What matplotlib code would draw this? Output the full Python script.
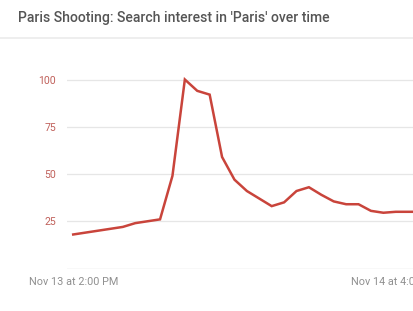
import matplotlib
matplotlib.use("Agg")
import matplotlib.pyplot as plt
from matplotlib.lines import Line2D

plt.rcParams['font.family'] = ['Roboto', 'DejaVu Sans']

# hourly search interest, starting Nov 13 at 2:00 PM
hours = list(range(29))
interest = [18, 19, 20, 21, 22, 24, 25, 26, 49, 100, 94, 92, 59, 47, 41, 37,
            33, 35, 41, 43, 39, 35.5, 34, 34, 30.5, 29.5, 30, 30, 30]
y_ticks = [25, 50, 75, 100]
x_ticks = [0, 26]
x_labels = ['Nov 13 at 2:00 PM', 'Nov 14 at 4:00 PM']

W, H = 414, 311
fig = plt.figure(figsize=(W / 100, H / 100), dpi=100)
fig.patch.set_facecolor('white')

fig.text(18 / W, 1 - 18 / H, "Paris Shooting: Search interest in 'Paris' over time",
         fontsize=10.1, color='#555555', va='center', ha='left', weight='medium')
fig.add_artist(Line2D([0, 1], [1 - 37.5 / H] * 2, color='#ebebeb', lw=1.2,
                      transform=fig.transFigure))

# axes run past the right edge, like the cropped screenshot
left, right = 67, 428
bottom, top = 268.5, 70
ax = fig.add_axes([left / W, 1 - bottom / H, (right - left) / W, (bottom - top) / H])
ax.set_xlim(-0.5, 28.6)
ax.set_ylim(0, 100 * (bottom - top) / (bottom - 79.5))

for v in y_ticks:
    ax.axhline(v, color='#e6e6e6', lw=0.9, zorder=1)
ax.axhline(0, color='#dcdcdc', lw=1.0, zorder=1)

ax.plot(hours, interest, color='#c9443b', lw=1.8, solid_joinstyle='miter', zorder=3)

ax.set_yticks(y_ticks)
ax.set_yticklabels([str(v) for v in y_ticks], color='#c0605a', fontsize=7.6)
ax.set_xticks(x_ticks)
ax.set_xticklabels(x_labels, color='#909090', fontsize=7.8)
ax.tick_params(axis='both', length=0)
ax.tick_params(axis='y', pad=8)
ax.tick_params(axis='x', pad=6)
for s in ax.spines.values():
    s.set_visible(False)

fig.savefig('out.png', dpi=100)
